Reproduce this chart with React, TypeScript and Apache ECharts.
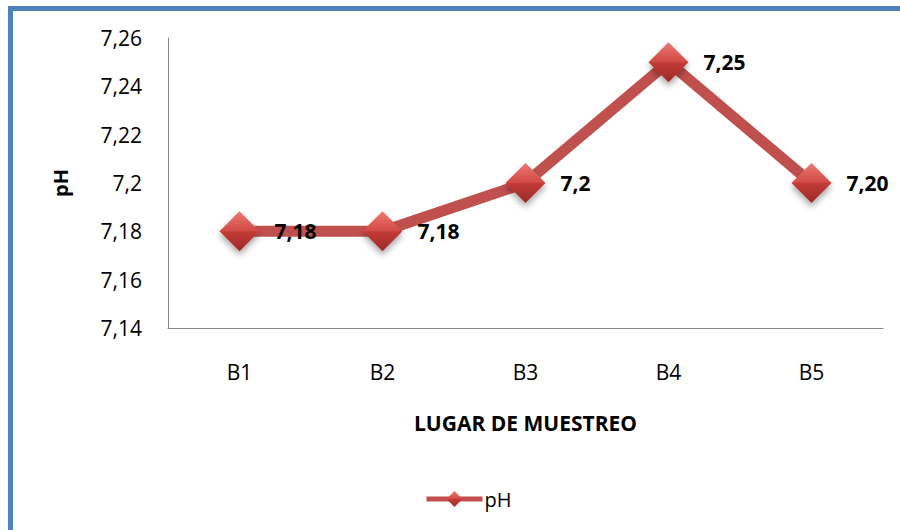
import React, { useEffect, useRef } from "react";
import * as echarts from "echarts";

const categories = ["B1", "B2", "B3", "B4", "B5"];
const phValues = [7.18, 7.18, 7.2, 7.25, 7.2];
const pointLabels = ["7,18", "7,18", "7,2", "7,25", "7,20"];
const yMin = 7.14;
const yMax = 7.26;
const yStep = 0.02;
const seriesName = "pH";
const xTitle = "LUGAR DE MUESTREO";
const yTitle = "pH";

const FONT = "'Open Sans', 'Noto Sans', sans-serif";

export default function App() {
  const ref = useRef<HTMLDivElement>(null);
  useEffect(() => {
    if (!ref.current) return;
    const chart = echarts.init(ref.current, null, { renderer: "svg" });
    const diamondFill = new echarts.graphic.LinearGradient(0, 0, 0, 1, [
      { offset: 0, color: "#EC7A72" },
      { offset: 0.48, color: "#D24B46" },
      { offset: 0.52, color: "#C13B37" },
      { offset: 1, color: "#9C2926" },
    ]);
    chart.setOption({
      animation: false,
      backgroundColor: "#ffffff",
      textStyle: { fontFamily: FONT },
      grid: { left: 168, right: 17, top: 38, bottom: 202 },
      graphic: [
        { type: "rect", shape: { x: 8, y: 6, width: 892, height: 5 }, style: { fill: "#4F81BD" }, z: 100 },
        { type: "rect", shape: { x: 8, y: 6, width: 5, height: 524 }, style: { fill: "#4F81BD" }, z: 100 },
      ],
      xAxis: {
        type: "category",
        data: categories,
        boundaryGap: true,
        axisLine: { lineStyle: { color: "#868686", width: 1 } },
        axisTick: { show: false },
        axisLabel: { color: "#000", fontSize: 21, fontFamily: FONT, margin: 33 },
        name: xTitle,
        nameLocation: "middle",
        nameGap: 84,
        nameTextStyle: { color: "#000", fontSize: 21, fontWeight: "bold", fontFamily: FONT },
      },
      yAxis: {
        type: "value",
        min: yMin,
        max: yMax,
        interval: yStep,
        splitLine: { show: false },
        axisLine: { show: true, lineStyle: { color: "#868686", width: 1 } },
        axisTick: { show: false },
        axisLabel: {
          color: "#000",
          fontSize: 21,
          fontFamily: FONT,
          margin: 26,
          formatter: (v: number) => String(+v.toFixed(2)).replace(".", ","),
        },
        name: yTitle,
        nameLocation: "middle",
        nameGap: 98,
        nameRotate: 90,
        nameTextStyle: { color: "#000", fontSize: 20, fontWeight: "bold", fontFamily: FONT },
      },
      legend: {
        show: true,
        left: 419,
        top: 484,
        itemWidth: 56,
        itemHeight: 20,
        itemGap: 4,
        lineStyle: { width: 5 },
        itemStyle: { shadowBlur: 0, shadowOffsetY: 0 },
        textStyle: { color: "#000", fontSize: 20, fontFamily: FONT, padding: [0, 0, 0, -3] },
        data: [seriesName],
      },
      series: [
        {
          name: seriesName,
          type: "line",
          data: phValues,
          symbol: "diamond",
          symbolSize: 40,
          lineStyle: { color: "#C0504D", width: 11 },
          itemStyle: {
            color: diamondFill,
            borderWidth: 0,
            shadowColor: "rgba(0,0,0,0.35)",
            shadowBlur: 6,
            shadowOffsetY: 4,
          },
          label: {
            show: true,
            position: "right",
            distance: 15,
            color: "#000",
            fontSize: 21,
            fontWeight: "bold",
            fontFamily: FONT,
            formatter: (p: any) => pointLabels[p.dataIndex],
          },
          emphasis: { disabled: true },
        },
      ],
    });
    return () => chart.dispose();
  }, []);
  return (
    <div
      ref={ref}
      style={{ position: "absolute", left: 0, top: 0, width: 900, height: 530 }}
    />
  );
}
